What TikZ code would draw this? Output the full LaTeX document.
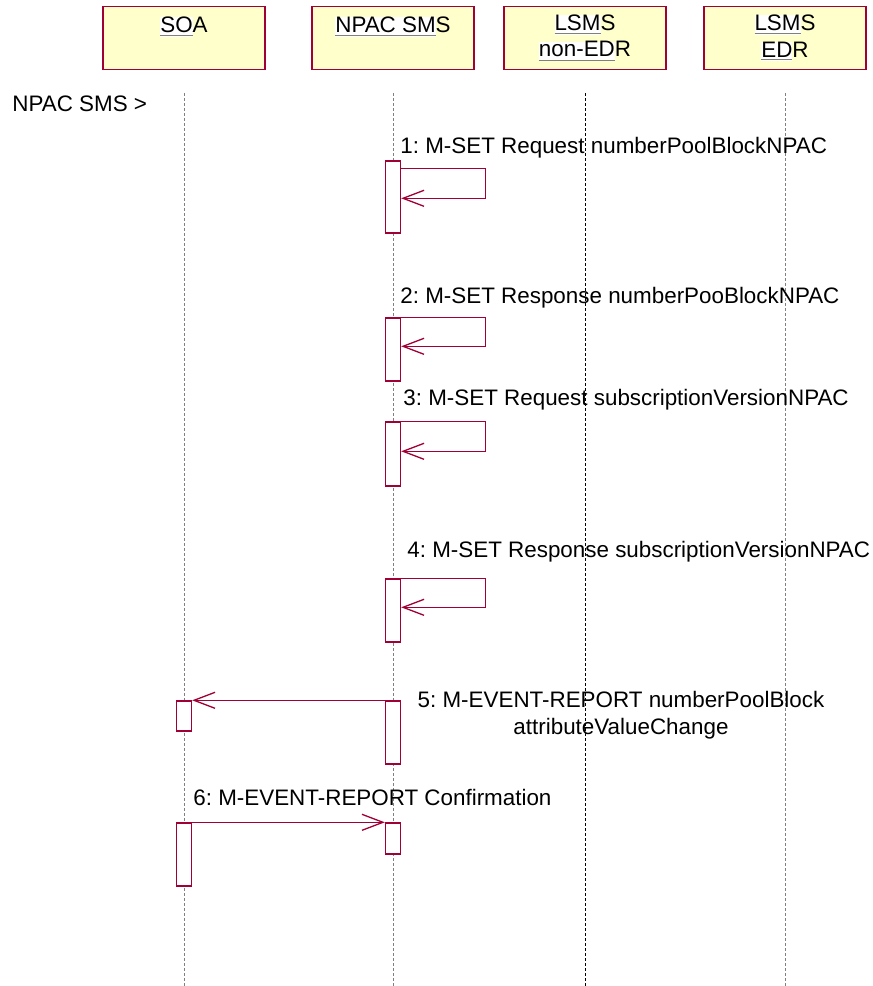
\documentclass[tikz,border=0pt]{standalone}
\usepackage{fontspec}
\setmainfont{Liberation Sans}
\usepackage{xcolor}
\usepackage{tikz}
\usetikzlibrary{arrows.meta,positioning,calc}
\definecolor{umlred}{RGB}{160,0,52}
\definecolor{umlyel}{RGB}{255,255,204}
\frenchspacing
\newcommand{\umlfont}{\fontsize{11.2}{13.2}\selectfont}
\newcommand{\ulw}[1]{{\setlength{\fboxsep}{0pt}\colorbox{white}{\color{gray}\underline{\color{black}#1}}}}
\tikzset{
	hdr/.style={draw=umlred, fill=umlyel, line width=0.7pt, minimum width=81pt,
		minimum height=31.5pt, align=center, font=\umlfont, inner sep=0pt},
	life/.style={draw=gray, line width=0.5pt, dash pattern=on 1.5pt off 1pt},
	act/.style={draw=umlred, fill=white, line width=0.7pt, minimum width=7.5pt, inner sep=0pt},
	msg/.style={draw=umlred, line width=0.65pt},
	lbl/.style={font=\umlfont, inner sep=0pt, anchor=base west},
}
\begin{document}
\begin{tikzpicture}[x=0.5pt, y=-0.5pt, >={Straight Barb[length=10.5pt,width=8pt]}]
	\useasboundingbox (0,0) rectangle (873,986);
	\node[hdr] at (184,38) (soa) {\ulw{SO}A\\\mbox{}};
	\node[hdr] at (393,38) (npac) {\ulw{NPAC SM}S\\\mbox{}};
	\node[hdr] at (585,38) (lsmsa) {\ulw{LSM}S\\\ulw{non-ED}R};
	\node[hdr] at (785,38) (lsmsb) {\ulw{LSM}S\\\ulw{ED}R};
	\node[lbl] at (12,111) (actor) {NPAC SMS >};
	\coordinate (top) at (0,93);
	\coordinate (bot) at (0,986);
	\draw[life] (soa |- top) -- (soa |- bot);
	\draw[life] (npac |- top) -- (npac |- bot);
	\draw[life, draw=black] (lsmsa |- top) -- (lsmsa |- bot);
	\draw[life] (lsmsb |- top) -- (lsmsb |- bot);
	\node[act, minimum height=36pt] at (393,197) (a1) {};
	\node[act, minimum height=31.5pt] at (393,349.5) (a2) {};
	\node[act, minimum height=32pt] at (393,454) (a3) {};
	\node[act, minimum height=31.5pt] at (393,610.5) (a4) {};
	\node[act, minimum height=31.5pt] at (393,732.5) (a5) {};
	\node[act, minimum height=15.5pt] at (393,838.5) (a6) {};
	\node[act, minimum height=15pt] at (184,716) (s5) {};
	\node[act, minimum height=31.5pt] at (184,854.5) (s6) {};
	\draw[msg, ->] ([yshift=-4pt]a1.north east) -- ++(84,0) -- ++(0,30) -- ++(-84,0);
	\draw[msg, ->] (a2.north east) -- ++(84,0) -- ++(0,29) -- ++(-84,0);
	\draw[msg, ->] (a3.north east) -- ++(84,0) -- ++(0,30) -- ++(-84,0);
	\draw[msg, ->] (a4.north east) -- ++(84,0) -- ++(0,29) -- ++(-84,0);
	\draw[msg, ->] (a5.north west) -- (s5.north east);
	\draw[msg, ->] (s6.north east) -- (a6.north west);
	\node[lbl] at (400,153) (m1) {1: M-SET Request numberPoolBlockNPAC};
	\node[lbl] at (400,303) (m2) {2: M-SET Response numberPooBlockNPAC};
	\node[lbl] at (403,405) (m3) {3: M-SET Request subscriptionVersionNPAC};
	\node[lbl] at (407,557) (m4) {4: M-SET Response subscriptionVersionNPAC};
	\node[lbl, anchor=north, align=center] at (621,691) (m5) {5: M-EVENT-REPORT numberPoolBlock\\attributeValueChange};
	\node[lbl] at (193,805) (m6) {6: M-EVENT-REPORT Confirmation};
\end{tikzpicture}
\end{document}
